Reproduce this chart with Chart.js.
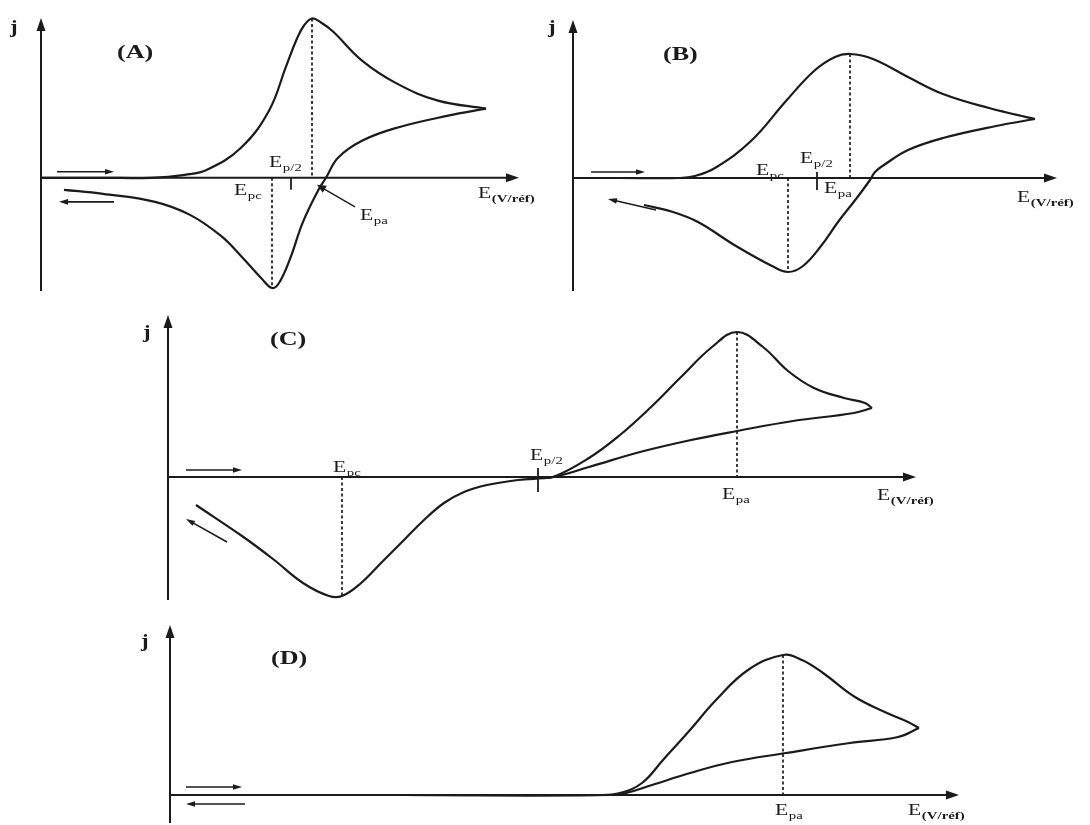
<!DOCTYPE html>
<html>
<head>
<meta charset="utf-8">
<script src="https://cdn.jsdelivr.net/npm/chart.js@4.4.1/dist/chart.umd.min.js"></script>
<style>
  html, body { margin: 0; padding: 0; background: #fff; }
  #wrap { position: relative; width: 1090px; height: 825px; }
  #wrap canvas { position: absolute; left: 0; top: 0; }
</style>
</head>
<body>
<div id="wrap">
  <canvas id="cA" width="1090" height="825"></canvas>
  <canvas id="cB" width="1090" height="825"></canvas>
  <canvas id="cC" width="1090" height="825"></canvas>
  <canvas id="cD" width="1090" height="825"></canvas>
</div>
<script>
// --- (A) système rapide : aller (fwd) puis retour (rev), E et j en unités arbitraires
const aFwdE = [0, 6, 11, 14.4, 16.6, 20, 22.8, 24.5, 25.6, 26.3, 27.1, 28.0, 29.2, 32.1, 35.6, 39.7, 44.5];
const aFwdJ = [0, 0, 0, 0.3, 0.8, 3.0, 6.7, 11.1, 13.9, 15.2, 15.9, 15.5, 14.6, 11.7, 9.4, 7.7, 6.9];
const aRevE = [44.5, 40.7, 35.6, 32.1, 29.7, 28.5, 27.8, 26.2, 24.9, 23.8, 23.1, 22.1, 20, 18, 14.9, 11.4, 6.2, 2.3];
const aRevJ = [6.9, 6.2, 5.0, 3.7, 2.0, 0, -1.1, -4.4, -8.1, -10.5, -11.0, -10.1, -7.8, -5.8, -3.7, -2.4, -1.6, -1.2];

// --- (B) système quasi-rapide
const bFwdE = [0, 4.7, 10.7, 12.2, 14.2, 17.8, 21.3, 24.1, 26.2, 27.7, 30, 33.5, 37, 41.6, 46.2];
const bFwdJ = [0, 0, 0, 0.2, 1.0, 3.7, 7.7, 10.7, 12.1, 12.4, 11.9, 10.1, 8.4, 7.0, 5.9];
const bRevE = [46.2, 42.3, 37, 33.5, 31.1, 30.2, 29.7, 28.3, 26.5, 24.8, 23, 21.5, 19.9, 16.3, 12.5, 10, 7.1];
const bRevJ = [5.9, 5.2, 4.0, 2.8, 1.3, 0.6, -0.2, -2.1, -4.4, -6.8, -8.8, -9.4, -8.8, -6.8, -4.4, -3.4, -2.7];

// --- (C) système lent
const cFwdE = [0, 13.2, 28.2, 37, 38.5, 42.1, 45.2, 48.2, 51.3, 54.4, 56.9, 59.5, 62, 64.6, 67.6, 69.7, 70.4];
const cFwdJ = [0, 0, 0, 0, 0, 1.9, 4.2, 6.9, 10, 13, 14.5, 13, 10.6, 8.9, 7.9, 7.4, 6.9];
const cRevE = [70.4, 68.6, 62.5, 56.9, 52.3, 47.2, 42.1, 38.5, 35, 31.9, 29.6, 27.6, 25.6, 23.6, 21.4, 19.2, 17.4, 16.1, 13.5, 10.5, 7.4, 2.8];
const cRevJ = [6.9, 6.4, 5.6, 4.6, 3.7, 2.5, 1.0, 0, -0.3, -0.8, -1.5, -2.6, -4.3, -6.3, -8.5, -10.7, -11.9, -11.9, -10.6, -8.2, -5.9, -2.8];

// --- (D) système irréversible (pas de pic retour)
const dFwdE = [0, 23, 43, 45, 47.2, 49.3, 52, 54.6, 57.8, 61.3, 63.2, 65.3, 68.5, 71.7, 73.8, 74.9];
const dFwdJ = [0, 0, 0, 0.2, 1.2, 3.5, 6.5, 9.5, 12.5, 14, 13.5, 12.2, 9.8, 8.2, 7.3, 6.7];
const dRevE = [74.9, 72.8, 68, 61.6, 56.2, 52, 48.2, 45.6, 44, 23, 0];
const dRevJ = [6.7, 5.8, 5.2, 4.2, 3.3, 2.2, 1.0, 0.2, 0, 0, 0];

// bornes des axes [Emax, jMin, jMax]
const aRange = [47.8, -11.3, 15.95];
const bRange = [48.4, -11.3, 15.8];
const cRange = [74.8, -12.3, 16.2];
const dRange = [78.9, -2.8, 17.0];

const INK = '#1b1b1b';
const SERIF = '"Liberation Serif", "DejaVu Serif", serif';

const panels = [
  {
    id: 'cA', fwdE: aFwdE, fwdJ: aFwdJ, revE: aRevE, revJ: aRevJ, range: aRange,
    box: [41, 18, 519, 291], ep2: [25.0, 0, -1.2], cathodic: true,
    labels: [['j', null, -3.1, 14.5, 'j'], ['(A)', null, 7.6, 12.0, 't'], ['E', 'p/2', 22.8, 1.1], ['E', 'pc', 19.3, -1.7],
             ['E', 'pa', 31.9, -4.2], ['E', '(V/réf)', 43.7, -2.0]],
    arrows: [[1.6, 0.6, 7.3, 0.6], [7.3, -2.4, 1.8, -2.4], [31.4, -2.9, 27.6, -0.7, true]],
  },
  {
    id: 'cB', fwdE: bFwdE, fwdJ: bFwdJ, revE: bRevE, revJ: bRevJ, range: bRange,
    box: [573, 20, 1057, 291], ep2: [24.4, 0.6, -1.2], cathodic: true,
    labels: [['j', null, -2.5, 14.5, 'j'], ['(B)', null, 9.0, 11.8, 't'], ['E', 'p/2', 22.7, 1.5], ['E', 'pc', 18.3, 0.3],
             ['E', 'pa', 25.1, -1.5], ['E', '(V/réf)', 44.4, -2.4]],
    arrows: [[1.8, 0.6, 7.2, 0.6], [8.3, -3.2, 3.5, -2.1]],
  },
  {
    id: 'cC', fwdE: cFwdE, fwdJ: cFwdJ, revE: cRevE, revJ: cRevJ, range: cRange,
    box: [168, 315, 916, 600], ep2: [37.0, 0.9, -1.5], cathodic: true,
    labels: [['j', null, -2.5, 13.9, 'j'], ['(C)', null, 10.2, 13.2, 't'], ['E', 'pc', 16.5, 0.5], ['E', 'p/2', 36.2, 1.7],
             ['E', 'pa', 55.4, -2.2], ['E', '(V/réf)', 70.9, -2.3]],
    arrows: [[1.8, 0.7, 7.4, 0.7], [5.9, -6.5, 1.8, -4.2]],
  },
  {
    id: 'cD', fwdE: dFwdE, fwdJ: dFwdJ, revE: dRevE, revJ: dRevJ, range: dRange,
    box: [170, 625, 959, 823], ep2: null, cathodic: false,
    labels: [['j', null, -2.9, 14.8, 'j'], ['(D)', null, 10.1, 13.1, 't'], ['E', 'pa', 60.5, -2.0], ['E', '(V/réf)', 73.8, -2.0]],
    arrows: [[1.6, 0.8, 7.2, 0.8], [7.5, -0.9, 1.6, -0.9]],
  },
];

function head(ctx, x1, y1, x2, y2, len, half) {
  const a = Math.atan2(y2 - y1, x2 - x1), c = Math.cos(a), s = Math.sin(a);
  ctx.beginPath();
  ctx.moveTo(x2, y2);
  ctx.lineTo(x2 - len * c + half * s, y2 - len * s - half * c);
  ctx.lineTo(x2 - len * c - half * s, y2 - len * s + half * c);
  ctx.closePath();
  ctx.fill();
}

function arrowLine(ctx, x1, y1, x2, y2, w, len, half) {
  const a = Math.atan2(y2 - y1, x2 - x1);
  ctx.lineWidth = w;
  ctx.beginPath();
  ctx.moveTo(x1, y1);
  ctx.lineTo(x2 - (len - 1) * Math.cos(a), y2 - (len - 1) * Math.sin(a));
  ctx.stroke();
  head(ctx, x1, y1, x2, y2, len, half);
}

// E avec indice ; les textes sont légèrement élargis comme sur la figure d'origine
function text(ctx, x, y, main, sub, kind) {
  ctx.save();
  ctx.translate(x, y);
  ctx.textBaseline = 'alphabetic';
  if (kind === 'j') { ctx.scale(1.2, 1); ctx.font = 'bold 19px ' + SERIF; }
  else if (kind === 't') { ctx.scale(1.45, 1); ctx.font = 'bold 18px ' + SERIF; }
  else { ctx.scale(1.35, 1); ctx.font = '16px ' + SERIF; }
  ctx.fillText(main, 0, 0);
  if (sub) {
    const w = ctx.measureText(main).width;
    ctx.font = (sub[0] === '(' ? 'bold ' : '') + '11px ' + SERIF;
    ctx.fillText(sub, w + 0.5, 4);
  }
  ctx.restore();
}

// indice du pic (max ou min) d'une série
function peakIndex(arr, sign) {
  let k = 0;
  arr.forEach((v, i) => { if (sign * v > sign * arr[k]) k = i; });
  return k;
}

function makeDecor(p) {
  return {
    id: 'decor_' + p.id,
    afterDatasetsDraw(chart) {
      const ctx = chart.ctx, xs = chart.scales.x, ys = chart.scales.y;
      const X = v => xs.getPixelForValue(v), Y = v => ys.getPixelForValue(v);
      ctx.save();
      ctx.strokeStyle = INK;
      ctx.fillStyle = INK;

      // axes fléchés
      arrowLine(ctx, X(0), Y(0), X(p.range[0]), Y(0), 2, 13, 4.5);
      arrowLine(ctx, X(0), Y(p.range[1]), X(0), Y(p.range[2]), 2, 13, 4.5);

      // pointillés aux potentiels de pic
      ctx.setLineDash([3, 2.5]);
      ctx.lineWidth = 1.7;
      const ia = peakIndex(p.fwdJ, 1);
      ctx.beginPath();
      ctx.moveTo(X(p.fwdE[ia]), Y(p.fwdJ[ia]));
      ctx.lineTo(X(p.fwdE[ia]), Y(0));
      if (p.cathodic) {
        const ic = peakIndex(p.revJ, -1);
        ctx.moveTo(X(p.revE[ic]), Y(0));
        ctx.lineTo(X(p.revE[ic]), Y(p.revJ[ic]));
      }
      ctx.stroke();
      ctx.setLineDash([]);

      // repère E p/2
      if (p.ep2) {
        ctx.lineWidth = 1.8;
        ctx.beginPath();
        ctx.moveTo(X(p.ep2[0]), Y(p.ep2[1]));
        ctx.lineTo(X(p.ep2[0]), Y(p.ep2[2]));
        ctx.stroke();
      }

      // sens de balayage
      p.arrows.forEach(a => arrowLine(ctx, X(a[0]), Y(a[1]), X(a[2]), Y(a[3]), a[4] ? 1.4 : 1.6, 9, a[4] ? 4 : 2.8));

      // textes
      p.labels.forEach(l => text(ctx, X(l[2]), Y(l[3]), l[0], l[1], l[4]));
      ctx.restore();
    },
  };
}

function series(E, J) {
  return {
    data: E.map((e, i) => ({ x: e, y: J[i] })),
    showLine: true,
    borderColor: INK,
    borderWidth: 2.2,
    pointRadius: 0,
    tension: 0.4,
    clip: false,
  };
}

panels.forEach(p => {
  new Chart(document.getElementById(p.id), {
    type: 'scatter',
    data: { datasets: [series(p.fwdE, p.fwdJ), series(p.revE, p.revJ)] },
    options: {
      responsive: false,
      animation: false,
      devicePixelRatio: 1,
      events: [],
      layout: { padding: { left: p.box[0], top: p.box[1], right: 1090 - p.box[2], bottom: 825 - p.box[3] } },
      scales: {
        x: { type: 'linear', min: 0, max: p.range[0], display: false },
        y: { type: 'linear', min: p.range[1], max: p.range[2], display: false },
      },
      plugins: { legend: { display: false }, tooltip: { enabled: false } },
    },
    plugins: [makeDecor(p)],
  });
});
</script>
</body>
</html>
